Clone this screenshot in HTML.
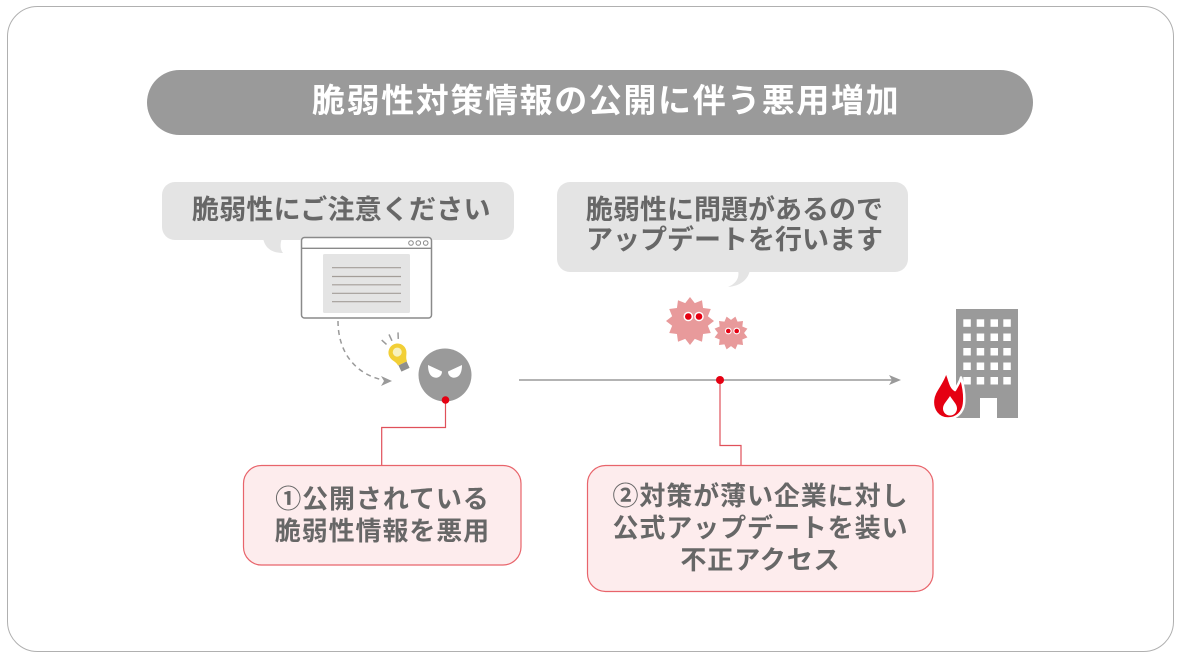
<!DOCTYPE html>
<html><head><meta charset="utf-8">
<style>
html,body{margin:0;padding:0;background:#fff;}
#wrap{position:relative;width:1180px;height:658px;overflow:hidden;background:#fff;}
svg{position:absolute;left:0;top:0;}
.t{position:absolute;font-family:"Liberation Sans","Noto Sans CJK JP",sans-serif;font-weight:bold;white-space:nowrap;}
</style></head>
<body><div id="wrap">
<svg width="1180" height="658" viewBox="0 0 1180 658">
  <rect x="7.5" y="6.5" width="1166" height="645" rx="30" ry="30" fill="#fff" stroke="#b0b0b0" stroke-width="1"/>
  <rect x="147" y="70" width="886" height="65" rx="32.5" ry="32.5" fill="#9a9a9a"/>

  <rect x="162" y="182" width="352" height="58" rx="13" fill="#e4e4e4"/>
  <path d="M263,238 C265,249 273,253 283,253 C280,249 280,244 282,238 Z" fill="#e4e4e4"/>

  <rect x="557" y="182" width="351" height="90" rx="13" fill="#e4e4e4"/>
  <path d="M738,270 C740,279 735,284 728,287 C740,286 748,280 750,270 Z" fill="#e4e4e4"/>

  <rect x="301.5" y="237.5" width="130" height="80.5" rx="3" fill="#fff" stroke="#8a8a8a" stroke-width="1.5"/>
  <line x1="301.5" y1="248.3" x2="431.5" y2="248.3" stroke="#8a8a8a" stroke-width="1.3"/>
  <circle cx="411" cy="243" r="2.3" fill="none" stroke="#8a8a8a" stroke-width="1"/>
  <circle cx="418.3" cy="243" r="2.3" fill="none" stroke="#8a8a8a" stroke-width="1"/>
  <circle cx="425.7" cy="243" r="2.3" fill="none" stroke="#8a8a8a" stroke-width="1"/>
  <rect x="323" y="254" width="87" height="59" rx="1.5" fill="#e4e4e4"/>
  <g stroke="#a39d98" stroke-width="1.2">
    <line x1="332" y1="267.7" x2="401" y2="267.7"/>
    <line x1="332" y1="276.5" x2="401" y2="276.5"/>
    <line x1="332" y1="284.8" x2="401" y2="284.8"/>
    <line x1="332" y1="293.3" x2="401" y2="293.3"/>
    <line x1="332" y1="301.7" x2="401" y2="301.7"/>
  </g>

  <path d="M338,321 C338,352 355,374 383,380" fill="none" stroke="#9a9a9a" stroke-width="1.5" stroke-dasharray="5,4"/>
  <polygon points="392,381 381,376 384,381 381,386" fill="#9a9a9a"/>

  <g transform="rotate(-25 400 358)">
    <line x1="400" y1="332" x2="400" y2="339" stroke="#9a9a9a" stroke-width="1.5"/>
    <line x1="391" y1="334" x2="393.5" y2="340" stroke="#9a9a9a" stroke-width="1.5"/>
    <line x1="409" y1="334" x2="406.5" y2="340" stroke="#9a9a9a" stroke-width="1.5"/>
    <path d="M400,343 C405,343 409,347 409,352 C409,357 405,359 405,364 L395,364 C395,359 391,357 391,352 C391,347 395,343 400,343 Z" fill="#f2cf36"/>
    <circle cx="400" cy="351.5" r="4.5" fill="#f7f1bf"/>
    <rect x="395.5" y="364" width="9" height="7" fill="#8e8e8e"/>
  </g>

  <circle cx="445" cy="375" r="26.5" fill="#9a9a9a"/>
  <path d="M428,365 L442,371.5 C442,376 438,378.5 434.5,377.5 C430,376.5 428,372 428,365 Z" fill="#fff"/>
  <path d="M462,365 L448,371.5 C448,376 452,378.5 455.5,377.5 C460,376.5 462,372 462,365 Z" fill="#fff"/>

  <polyline points="445.5,400 445.5,427.5 381.7,427.5 381.7,465" fill="none" stroke="#e0505a" stroke-width="1.2"/>
  <circle cx="445.5" cy="400" r="3.8" fill="#e50012"/>

  <line x1="519" y1="380" x2="893" y2="380" stroke="#9a9a9a" stroke-width="1.5"/>
  <polygon points="901,380 889,375 892,380 889,385" fill="#9a9a9a"/>

  <polyline points="720,380 720,445.5 741,445.5 741,465" fill="none" stroke="#e0505a" stroke-width="1.2"/>
  <circle cx="720" cy="380" r="4" fill="#e50012"/>

  <g transform="translate(690,321) scale(24)">
    <polygon fill="#e89a9b" points="1,0 0.744,0.199 0.866,0.5 0.544,0.544 0.5,0.866 0.199,0.744 0,1 -0.199,0.744 -0.5,0.866 -0.544,0.544 -0.866,0.5 -0.744,0.199 -1,0 -0.744,-0.199 -0.866,-0.5 -0.544,-0.544 -0.5,-0.866 -0.199,-0.744 0,-1 0.199,-0.744 0.5,-0.866 0.544,-0.544 0.866,-0.5 0.744,-0.199"/>
  </g>
  <g transform="translate(731,333) rotate(15) scale(17)">
    <polygon fill="#e89a9b" points="1,0 0.744,0.199 0.866,0.5 0.544,0.544 0.5,0.866 0.199,0.744 0,1 -0.199,0.744 -0.5,0.866 -0.544,0.544 -0.866,0.5 -0.744,0.199 -1,0 -0.744,-0.199 -0.866,-0.5 -0.544,-0.544 -0.5,-0.866 -0.199,-0.744 0,-1 0.199,-0.744 0.5,-0.866 0.544,-0.544 0.866,-0.5 0.744,-0.199"/>
  </g>
  <circle cx="688.3" cy="316.5" r="4.8" fill="#fff"/>
  <circle cx="699" cy="316.5" r="4.8" fill="#fff"/>
  <circle cx="688.3" cy="316.5" r="3.3" fill="#e50012"/>
  <circle cx="699" cy="316.5" r="3.3" fill="#e50012"/>
  <circle cx="728.3" cy="331" r="3.4" fill="#fff"/>
  <circle cx="736.7" cy="331" r="3.4" fill="#fff"/>
  <circle cx="728.3" cy="331" r="2.3" fill="#e50012"/>
  <circle cx="736.7" cy="331" r="2.3" fill="#e50012"/>

  <rect x="956" y="309" width="62" height="109" fill="#9a9a9a"/>
  <g fill="#fff">
    <rect x="963.3" y="319.3" width="7.5" height="7.5"/><rect x="976.7" y="319.3" width="7.5" height="7.5"/><rect x="990.5" y="319.3" width="7.5" height="7.5"/><rect x="1003.3" y="319.3" width="7.5" height="7.5"/>
    <rect x="963.3" y="333.5" width="7.5" height="7.5"/><rect x="976.7" y="333.5" width="7.5" height="7.5"/><rect x="990.5" y="333.5" width="7.5" height="7.5"/><rect x="1003.3" y="333.5" width="7.5" height="7.5"/>
    <rect x="963.3" y="348" width="7.5" height="7.5"/><rect x="976.7" y="348" width="7.5" height="7.5"/><rect x="990.5" y="348" width="7.5" height="7.5"/><rect x="1003.3" y="348" width="7.5" height="7.5"/>
    <rect x="963.3" y="362.5" width="7.5" height="7.5"/><rect x="976.7" y="362.5" width="7.5" height="7.5"/><rect x="990.5" y="362.5" width="7.5" height="7.5"/><rect x="1003.3" y="362.5" width="7.5" height="7.5"/>
    <rect x="963.3" y="377" width="7.5" height="7.5"/><rect x="976.7" y="377" width="7.5" height="7.5"/><rect x="990.5" y="377" width="7.5" height="7.5"/><rect x="1003.3" y="377" width="7.5" height="7.5"/>
    <rect x="980" y="398" width="17" height="21"/>
  </g>

  <path d="M948,418.5 C938,418.5 932,410 933,400 C934,390 942,385 946,371.5 C950,380 950,387 955,390 C957,386 960,382 961,377.5 C964,388 965,396 964,404 C963,412 957,418.5 948,418.5 Z" fill="#e50012" stroke="#fff" stroke-width="2.5" stroke-linejoin="round"/>
  <path d="M950,396 C953,401 957,404 957,408.5 A7,7 0 0 1 943,408.5 C943,404 947,401 950,396 Z" fill="#fff"/>

  <rect x="243.5" y="465.5" width="277.5" height="99.5" rx="18" fill="#fdeced" stroke="#e8646b" stroke-width="1.2"/>
  <rect x="587.5" y="465.5" width="345.5" height="126" rx="18" fill="#fdeced" stroke="#e8646b" stroke-width="1.2"/>
</svg>

<div class="t" style="left:312px;top:81px;font-size:33px;line-height:40px;letter-spacing:1.6px;color:#fff;">脆弱性対策情報の公開に伴う悪用増加</div>

<div class="t" style="left:192px;top:195px;font-size:27px;line-height:30px;letter-spacing:0.2px;color:#676767;">脆弱性にご注意ください</div>

<div class="t" style="left:586px;top:195px;font-size:27px;line-height:30px;letter-spacing:0px;color:#676767;">脆弱性に問題があるので<br>アップデートを行います</div>

<div class="t" style="left:243px;top:483px;width:278px;text-align:center;font-size:26px;line-height:32px;letter-spacing:0.9px;padding-left:0.9px;box-sizing:border-box;color:#676767;">①公開されている<br>脆弱性情報を悪用</div>

<div class="t" style="left:587px;top:480px;width:346px;text-align:center;font-size:26px;line-height:32px;letter-spacing:0.9px;padding-left:0.9px;box-sizing:border-box;color:#676767;">②対策が薄い企業に対し<br>公式アップデートを装い<br>不正アクセス</div>

</div></body></html>
